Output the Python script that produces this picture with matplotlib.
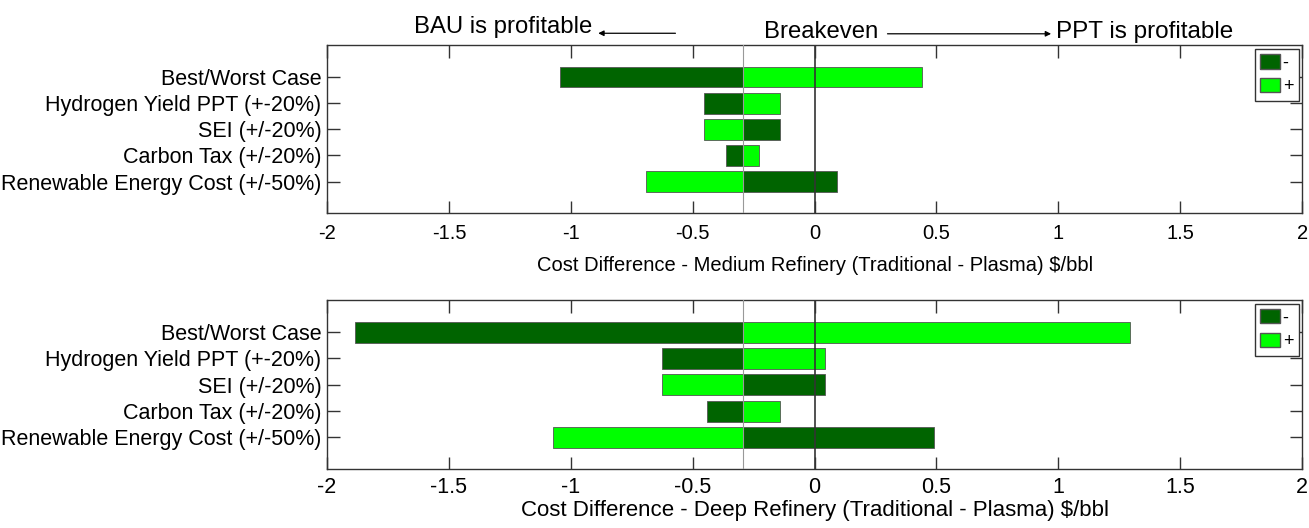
import numpy as np
import matplotlib
matplotlib.use("Agg")
import matplotlib.pyplot as plt
from matplotlib.patches import Patch, FancyArrowPatch

plt.rcParams['font.family'] = ['Liberation Sans', 'DejaVu Sans']

# -------------------------
# Dados
# -------------------------

categorias = ["Best/Worst Case", "Hydrogen Yield PPT (+-20%)", "SEI (+/-20%)",
              "Carbon Tax (+/-20%)", "Renewable Energy Cost (+/-50%)"]

base = -0.295

# valores extremos: caso "-" e caso "+"
medio_menos = [-1.046, -0.455, -0.14, -0.365, 0.09]
medio_mais = [0.439, -0.14, -0.455, -0.23, -0.69]

profundo_menos = [-1.887, -0.624, 0.041, -0.443, 0.488]
profundo_mais = [1.292, 0.041, -0.624, -0.14, -1.075]

xticks = [-2, -1.5, -1, -0.5, 0, 0.5, 1, 1.5, 2]
xticklabels = ["-2", "-1.5", "-1", "-0.5", "0", "0.5", "1", "1.5", "2"]

xlabels = ["Cost Difference - Medium Refinery (Traditional - Plasma) $/bbl",
           "Cost Difference - Deep Refinery (Traditional - Plasma) $/bbl"]

cor_escura = "#006400"
cor_clara = "#00ff00"


def tornado(ax, menos, mais, xlabel, fs_x, fs_lab, pad_tick, pad_lab):
    y = np.arange(len(categorias))
    menos = np.array(menos)
    mais = np.array(mais)
    ax.barh(y, menos - base, left=base, height=0.8, color=cor_escura,
            edgecolor="#555555", linewidth=0.6, zorder=2)
    ax.barh(y, mais - base, left=base, height=0.8, color=cor_clara,
            edgecolor="#555555", linewidth=0.6, zorder=2)
    ax.axvline(base, color="#999999", linewidth=0.8, zorder=3)
    ax.axvline(0, color="#333333", linewidth=1.2, zorder=3)
    ax.set_yticks(y)
    ax.set_yticklabels(categorias, fontsize=15.5)
    ax.set_ylim(5.2, -1.22)
    ax.set_xlim(-2, 2)
    ax.set_xticks(xticks)
    ax.set_xticklabels(xticklabels, fontsize=fs_x)
    ax.set_xlabel(xlabel.replace("$", r"\$"), fontsize=fs_lab, labelpad=pad_lab)
    ax.tick_params(axis="x", direction="in", top=True, length=9,
                   width=1, color="#333333", pad=pad_tick)
    ax.tick_params(axis="y", direction="in", right=True, length=9,
                   width=1, color="#333333", pad=4)
    for s in ax.spines.values():
        s.set_color("#333333")
        s.set_linewidth(1)
    handles = [Patch(facecolor=cor_escura, edgecolor="#555555", label="-"),
               Patch(facecolor=cor_clara, edgecolor="#555555", label="+")]
    leg = ax.legend(handles=handles, loc="upper right", fontsize=13,
                    handlelength=1.1, handleheight=0.85, handletextpad=0.15,
                    labelspacing=0.35, borderpad=0.3, borderaxespad=0.2,
                    fancybox=False, edgecolor="#333333", framealpha=1)
    leg.get_frame().set_linewidth(1)


# -------------------------
# Figura
# -------------------------

fig = plt.figure(figsize=(13.09, 5.28), dpi=100)
ax1 = fig.add_axes([0.2498, 0.5966, 0.745, 0.318])
ax2 = fig.add_axes([0.2498, 0.1117, 0.745, 0.320])

tornado(ax1, medio_menos, medio_mais, xlabels[0], 14.5, 14.5, 8, 9)
tornado(ax2, profundo_menos, profundo_mais, xlabels[1], 15.5, 16, 6, 1)

# textos e setas no topo
fig.text(0.3165, 0.948, "BAU is profitable", fontsize=17.2, ha="left", va="center")
fig.text(0.627, 0.939, "Breakeven", fontsize=17.2, ha="center", va="center")
fig.text(0.807, 0.939, "PPT is profitable", fontsize=17.5, ha="left", va="center")
fig.add_artist(FancyArrowPatch(
    (0.516, 0.937), (0.457, 0.937), transform=fig.transFigure,
    arrowstyle="-|>", mutation_scale=8, color="black", linewidth=0.9,
    shrinkA=0, shrinkB=0))
fig.add_artist(FancyArrowPatch(
    (0.678, 0.936), (0.803, 0.936), transform=fig.transFigure,
    arrowstyle="-|>", mutation_scale=8, color="black", linewidth=0.9,
    shrinkA=0, shrinkB=0))

fig.savefig("out.png", dpi=100)
